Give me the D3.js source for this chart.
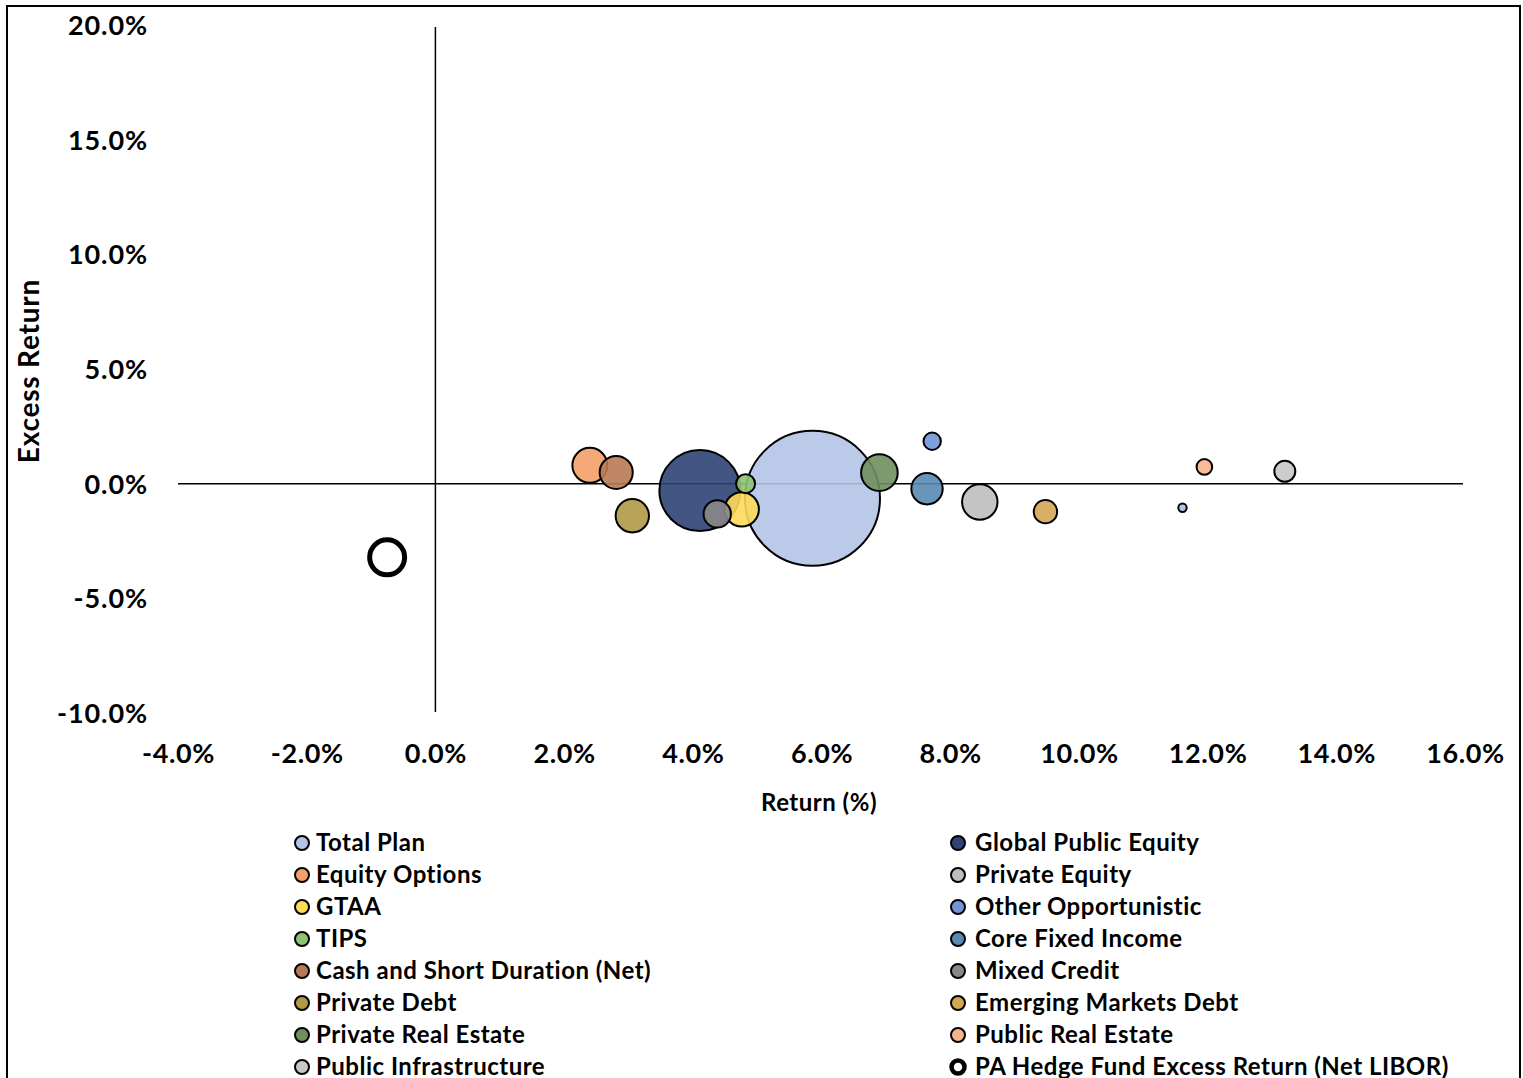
<!DOCTYPE html>
<html>
<head>
<meta charset="utf-8">
<script src="https://cdn.jsdelivr.net/npm/d3@7"></script>
<style>
  html, body { margin: 0; padding: 0; background: #fff; }
  svg { display: block; }
  text { font-family: Lato, "Open Sans", sans-serif; font-weight: 700; fill: #000; }
</style>
</head>
<body>
<svg id="chart" width="1523" height="1078"></svg>
<script>
// Asset classes, in legend order (row by row, two columns)
const categories = [
  "Total Plan", "Global Public Equity",
  "Equity Options", "Private Equity",
  "GTAA", "Other Opportunistic",
  "TIPS", "Core Fixed Income",
  "Cash and Short Duration (Net)", "Mixed Credit",
  "Private Debt", "Emerging Markets Debt",
  "Private Real Estate", "Public Real Estate",
  "Public Infrastructure", "PA Hedge Fund Excess Return (Net LIBOR)",
  "Absolute Return"
];
// Return (%)
const returns = [5.86, 4.11, 2.40, 8.46, 4.76, 7.72, 4.82, 7.64, 2.81, 4.38, 3.06, 9.48, 6.90, 11.95, 13.20, -0.75, 11.61];
// Excess return (%)
const excessReturns = [-0.64, -0.30, 0.80, -0.80, -1.12, 1.85, 0.00, -0.22, 0.49, -1.32, -1.40, -1.22, 0.48, 0.73, 0.54, -3.21, -1.05];
// Bubble size (relative allocation)
const allocations = [100, 36.0, 6.7, 6.9, 6.5, 1.66, 1.98, 5.4, 6.0, 4.1, 6.1, 3.0, 7.35, 1.34, 2.42, 7.5, 0.38];

// Axis tick values
const xTicks = [-4, -2, 0, 2, 4, 6, 8, 10, 12, 14, 16];
const yTicks = [-10, -5, 0, 5, 10, 15, 20];

// Fill colours per series; null = hollow ring
const palette = [
  "#b4c4e6", "#2f4375", "#f4a06a", "#bebebe", "#ffd95a", "#7096d8",
  "#8fc374", "#5a89b2", "#b87a52", "#888888", "#b09a46", "#d3a655",
  "#6f8f5e", "#f6b48a", "#c8c8c8", null, "#a8c0e8"
];

const svg = d3.select("#chart");

// Frame around the chart
svg.append("rect")
  .attr("x", 7).attr("y", 6).attr("width", 1513).attr("height", 1100)
  .attr("fill", "none").attr("stroke", "#000").attr("stroke-width", 2);

const x = d3.scaleLinear().domain([-4, 16]).range([178, 1465]);
const y = d3.scaleLinear().domain([-10, 20]).range([713, 25]);
const r = d3.scaleSqrt().domain([0, d3.max(allocations)]).range([0, 67.5]);

const fmt = d => d.toFixed(1) + "%";

// Tick labels along the bottom
const xAxis = svg.append("g")
  .attr("transform", `translate(0, 741)`)
  .call(d3.axisBottom(x).tickValues(xTicks).tickFormat(fmt).tickSize(0));
xAxis.select(".domain").remove();
xAxis.selectAll("text").attr("font-size", 27).attr("dy", "0.71em")
  .attr("letter-spacing", 0.6)
  .style("font-family", "Lato, sans-serif").style("font-weight", 700);

// Tick labels on the left
const yAxis = svg.append("g")
  .attr("transform", `translate(148, 0)`)
  .call(d3.axisLeft(y).tickValues(yTicks).tickFormat(fmt).tickSize(0));
yAxis.select(".domain").remove();
yAxis.selectAll("text").attr("font-size", 27).attr("x", 0).attr("dy", "0.35em")
  .attr("letter-spacing", 0.9)
  .style("font-family", "Lato, sans-serif").style("font-weight", 700);

// Zero lines
svg.append("line")
  .attr("x1", x(-4)).attr("x2", x(16) - 2)
  .attr("y1", y(0)).attr("y2", y(0))
  .attr("stroke", "#000").attr("stroke-width", 1.5);
svg.append("line")
  .attr("x1", x(0)).attr("x2", x(0))
  .attr("y1", y(20) + 2).attr("y2", y(-10) - 1)
  .attr("stroke", "#000").attr("stroke-width", 1.5);

// Axis titles
svg.append("text")
  .attr("x", 819).attr("y", 805).attr("text-anchor", "middle")
  .attr("dominant-baseline", "middle").attr("font-size", 24)
  .attr("letter-spacing", 0.5)
  .text("Return (%)");
svg.append("text")
  .attr("transform", "translate(32, 371) rotate(-90)")
  .attr("text-anchor", "middle").attr("dominant-baseline", "middle")
  .attr("font-size", 28).attr("letter-spacing", 0.8)
  .text("Excess Return");

// Bubbles, largest first so the small ones stay visible
const points = categories.map((c, i) => ({
  name: c, ret: returns[i], ex: excessReturns[i], size: allocations[i], color: palette[i]
})).sort((a, b) => b.size - a.size);

svg.append("g").selectAll("circle")
  .data(points)
  .join("circle")
  .attr("cx", d => x(d.ret))
  .attr("cy", d => y(d.ex))
  .attr("r", d => d.color ? r(d.size) : r(d.size) - 1)
  .attr("fill", d => d.color || "none")
  .attr("fill-opacity", 0.9)
  .attr("stroke", "#000")
  .attr("stroke-width", d => d.color ? 2 : 5);

// Legend: two columns
const legendCols = [302, 958];
const legendTop = 843, legendStep = 32;
const legend = svg.append("g").selectAll("g")
  .data(categories.map((c, i) => ({ name: c, color: palette[i], i })))
  .join("g")
  .attr("transform", d => `translate(${legendCols[d.i % 2]}, ${legendTop + Math.floor(d.i / 2) * legendStep})`);
legend.append("circle")
  .attr("r", d => d.color ? 7 : 6.5)
  .attr("fill", d => d.color || "#fff")
  .attr("stroke", "#000")
  .attr("stroke-width", d => d.color ? 2 : 4.5);
legend.append("text")
  .attr("x", d => d.i % 2 ? 17 : 14)
  .attr("dy", "0.35em")
  .attr("font-size", 24)
  .attr("letter-spacing", 0.5)
  .text(d => d.name);
</script>
</body>
</html>
